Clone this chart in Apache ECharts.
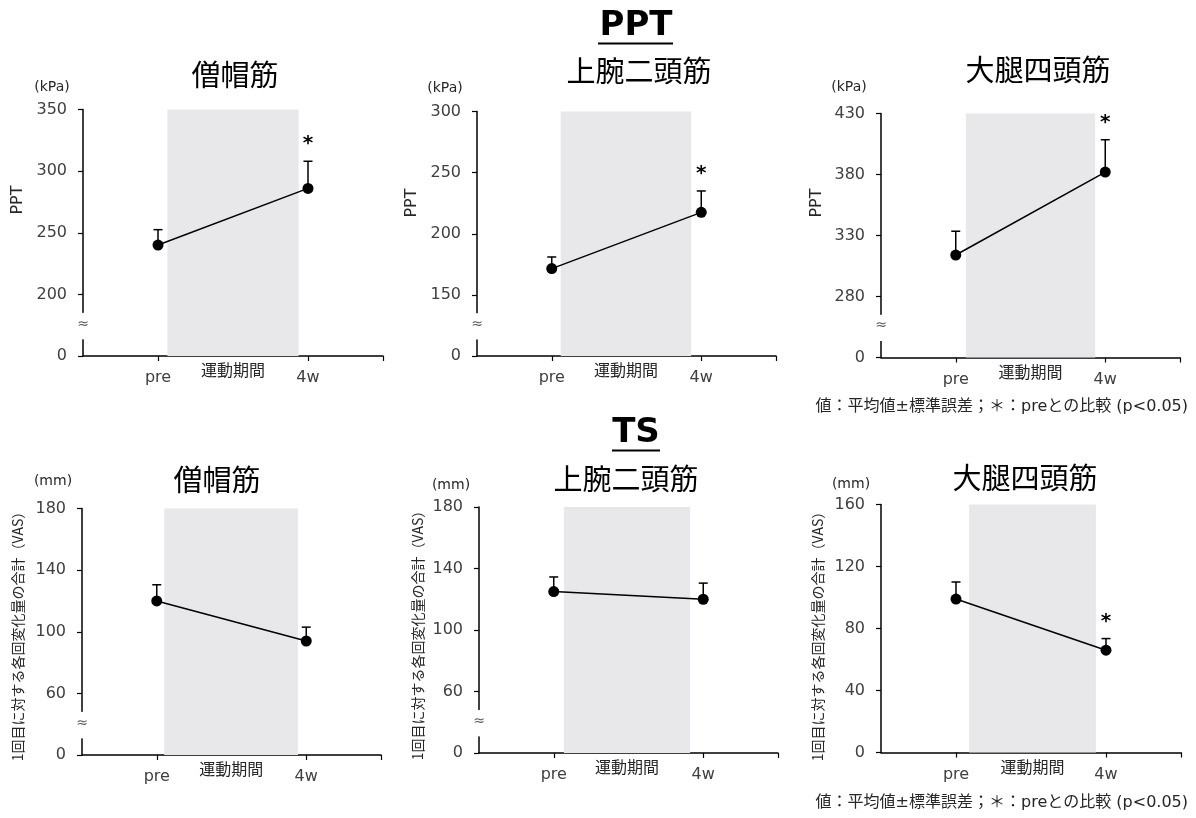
<!DOCTYPE html>
<html>
<head>
<meta charset="utf-8">
<script src="https://cdn.jsdelivr.net/npm/echarts@6.0.0/dist/echarts.min.js"></script>
<style>
    html, body { margin: 0; padding: 0; background: #fff; }
    #chart { width: 1196px; height: 818px; }
</style>
</head>
<body>
<div id="chart"></div>
<script>
// x positions: pre = week 0, 4w = week 4
const categories = ['pre', '4w'];
const weeks = [0, 4];
const axisSlots = ['', 'pre', '', '4w', ''];

// PPT (kPa)
const pptTrap = [240, 286];
const pptTrapErr = [12.5, 22];
const pptTrapSig = [0, 1];
const pptBic = [171.5, 217.5];
const pptBicErr = [9.5, 17.5];
const pptBicSig = [0, 1];
const pptQuad = [314, 382];
const pptQuadErr = [19.5, 26.5];
const pptQuadSig = [0, 1];

// TS (mm)
const tsTrap = [120, 94];
const tsTrapErr = [10.5, 9];
const tsTrapSig = [0, 0];
const tsBic = [125, 120];
const tsBicErr = [9.5, 10.5];
const tsBicSig = [0, 0];
const tsQuad = [99, 66];
const tsQuadErr = [11, 7.5];
const tsQuadSig = [0, 1];

// exercise period band (in weeks)
const exerciseBands = [[0.25, 3.75], [0.24, 3.73], [0.27, 3.73], [0.2, 3.78], [0.27, 3.65], [0.35, 3.73]];

const FONT = "'DejaVu Sans', 'Noto Sans CJK JP', sans-serif";
const JP = "'Noto Sans CJK JP', sans-serif";
const VAS = '1回目に対する各回変化量の合計（VAS）';

const panels = [
    { grid: { left: 83, top: 109.5, width: 300, height: 246.5 }, y: { min: 150, max: 350, interval: 50 }, broken: true,
      vals: pptTrap, err: pptTrapErr, sig: pptTrapSig, title: '僧帽筋', titlePos: [235, 75],
      unit: '(kPa)', unitPos: [52, 87], name: 'PPT', namePos: [18, 200], nameSize: 16, nameFont: FONT },
    { grid: { left: 477, top: 111.5, width: 299, height: 244.5 }, y: { min: 100, max: 300, interval: 50 }, broken: true,
      vals: pptBic, err: pptBicErr, sig: pptBicSig, title: '上腕二頭筋', titlePos: [639, 71],
      unit: '(kPa)', unitPos: [445, 88], name: 'PPT', namePos: [412, 203], nameSize: 16, nameFont: FONT },
    { grid: { left: 881, top: 113.5, width: 299, height: 244 }, y: { min: 230, max: 430, interval: 50 }, broken: true,
      vals: pptQuad, err: pptQuadErr, sig: pptQuadSig, title: '大腿四頭筋', titlePos: [1038, 70],
      unit: '(kPa)', unitPos: [849, 87], name: 'PPT', namePos: [817, 203], nameSize: 16, nameFont: FONT },
    { grid: { left: 82, top: 508.5, width: 299, height: 246.5 }, y: { min: 20, max: 180, interval: 40 }, broken: true,
      vals: tsTrap, err: tsTrapErr, sig: tsTrapSig, title: '僧帽筋', titlePos: [217, 480],
      unit: '(mm)', unitPos: [53, 481], name: VAS, namePos: [18, 633], nameSize: 14, nameFont: JP },
    { grid: { left: 479, top: 507, width: 299, height: 246 }, y: { min: 20, max: 180, interval: 40 }, broken: true,
      vals: tsBic, err: tsBicErr, sig: tsBicSig, title: '上腕二頭筋', titlePos: [626, 479],
      unit: '(mm)', unitPos: [451, 485], name: VAS, namePos: [418, 632], nameSize: 14, nameFont: JP },
    { grid: { left: 881, top: 504.5, width: 300, height: 248 }, y: { min: 0, max: 160, interval: 40 }, broken: false,
      vals: tsQuad, err: tsQuadErr, sig: tsQuadSig, title: '大腿四頭筋', titlePos: [1025, 478],
      unit: '(mm)', unitPos: [851, 484], name: VAS, namePos: [818, 633], nameSize: 14, nameFont: JP }
];

const renderErr = (params, api) => {
    const x = api.value(0), v = api.value(1), e = api.value(2), s = api.value(3);
    const p0 = api.coord([x, v]);
    const p1 = api.coord([x, v + e]);
    const children = [
        { type: 'line', shape: { x1: p0[0], y1: p0[1], x2: p1[0], y2: p1[1] }, style: { stroke: '#000', lineWidth: 1.5 } },
        { type: 'line', shape: { x1: p1[0] - 4.5, y1: p1[1], x2: p1[0] + 4.5, y2: p1[1] }, style: { stroke: '#000', lineWidth: 1.5 } }
    ];
    if (s) {
        children.push({
            type: 'text', x: p1[0], y: p1[1] - 17,
            style: { text: '*', fill: '#000', font: 'bold 20px ' + FONT, textAlign: 'center', textVerticalAlign: 'middle' }
        });
    }
    return { type: 'group', children: children };
};

let option = {
    animation: false,
    backgroundColor: '#fff',
    grid: [],
    xAxis: [],
    yAxis: [],
    series: []
};

panels.forEach((p, i) => {
    option.grid.push(Object.assign({ outerBoundsMode: 'none', containLabel: false }, p.grid));
    option.xAxis.push({
        type: 'category',
        gridIndex: i,
        data: axisSlots,
        boundaryGap: false,
        axisLine: { onZero: false, lineStyle: { color: '#000', width: 1.5 } },
        axisTick: { length: 5, interval: (idx) => idx === 1 || idx === 3 || idx === 4, lineStyle: { color: '#000', width: 1.2 } },
        axisLabel: { interval: (idx) => idx === 1 || idx === 3, margin: 14, color: '#404040', fontSize: 16, fontFamily: FONT },
        splitLine: { show: false }
    });
    option.xAxis.push({ type: 'value', gridIndex: i, min: -2, max: 6, show: false });
    option.yAxis.push({
        type: 'value',
        gridIndex: i,
        min: p.y.min,
        max: p.y.max,
        interval: p.y.interval,
        axisLine: { show: true, onZero: false, lineStyle: { color: '#000', width: 1.5 } },
        axisTick: { show: true, length: 5, lineStyle: { color: '#000', width: 1.2 } },
        axisLabel: {
            margin: 16, color: '#404040', fontSize: 16, fontFamily: FONT,
            formatter: (v) => (p.broken && v === p.y.min) ? '0' : String(v)
        },
        splitLine: { show: false }
    });
    option.series.push({
        type: 'line',
        xAxisIndex: 2 * i + 1,
        yAxisIndex: i,
        z: 3,
        data: weeks.map((w, k) => [w, p.vals[k]]),
        symbol: 'circle',
        symbolSize: 11,
        itemStyle: { color: '#000' },
        lineStyle: { color: '#000', width: 1.5 },
        markArea: {
            silent: true,
            itemStyle: { color: '#e8e7e9' },
            label: { show: true, position: 'bottom', distance: 6, color: '#262626', fontSize: 16, fontFamily: JP },
            data: [[{ name: '運動期間', xAxis: exerciseBands[i][0] }, { xAxis: exerciseBands[i][1] }]]
        }
    });
    option.series.push({
        type: 'custom',
        xAxisIndex: 2 * i + 1,
        yAxisIndex: i,
        z: 4,
        renderItem: renderErr,
        encode: { x: 0, y: 1 },
        data: weeks.map((w, k) => [w, p.vals[k], p.err[k], p.sig[k]])
    });
});

const chart = echarts.init(document.getElementById('chart'));
chart.setOption(option);

// text, headers and axis breaks
const g = [];
const txt = (text, x, y, size, font, extra) => Object.assign({
    type: 'text', x: x, y: y, z: 100,
    style: { text: text, fill: '#000', font: size + 'px ' + font, textAlign: 'center', textVerticalAlign: 'middle' }
}, extra || {});

g.push(txt('PPT', 636, 26, 34, FONT, { style: { text: 'PPT', fill: '#000', font: 'bold 34px ' + FONT, textAlign: 'center', textVerticalAlign: 'middle' } }));
g.push({ type: 'line', z: 100, shape: { x1: 598, y1: 43.5, x2: 673, y2: 43.5 }, style: { stroke: '#000', lineWidth: 2 } });
g.push(txt('TS', 636, 433, 34, FONT, { style: { text: 'TS', fill: '#000', font: 'bold 34px ' + FONT, textAlign: 'center', textVerticalAlign: 'middle' } }));
g.push({ type: 'line', z: 100, shape: { x1: 612, y1: 450.5, x2: 660, y2: 450.5 }, style: { stroke: '#000', lineWidth: 2 } });

panels.forEach((p, i) => {
    g.push(txt(p.title, p.titlePos[0], p.titlePos[1], 29, JP));
    const u = txt(p.unit, p.unitPos[0], p.unitPos[1], 14, FONT);
    u.style.fill = '#262626';
    g.push(u);
    const n = txt(p.name, p.namePos[0], p.namePos[1], p.nameSize, p.nameFont);
    n.rotation = Math.PI / 2;
    n.style.fill = '#262626';
    g.push(n);
    if (p.broken) {
        const finder = { xAxisIndex: 2 * i + 1, yAxisIndex: i };
        const yLo = chart.convertToPixel(finder, [0, p.y.min + 0.27 * p.y.interval])[1];
        const yHi = chart.convertToPixel(finder, [0, p.y.min + 0.70 * p.y.interval])[1];
        const yMid = chart.convertToPixel(finder, [0, p.y.min + 0.52 * p.y.interval])[1];
        const ax = p.grid.left;
        g.push({ type: 'rect', z: 100, shape: { x: ax - 4, y: yHi, width: 8, height: yLo - yHi }, style: { fill: '#fff' } });
        const b = txt('≈', ax, yMid, 14, FONT);
        b.style.fill = '#595959';
        b.z = 101;
        g.push(b);
    }
});

const note = '値：平均値±標準誤差；＊：preとの比較 (p<0.05)';
[406.5, 803].forEach((y) => {
    const t = txt(note, 1188, y, 16, FONT);
    t.style.textAlign = 'right';
    t.style.fill = '#262626';
    g.push(t);
});

chart.setOption({ graphic: { elements: g } });
</script>
</body>
</html>
